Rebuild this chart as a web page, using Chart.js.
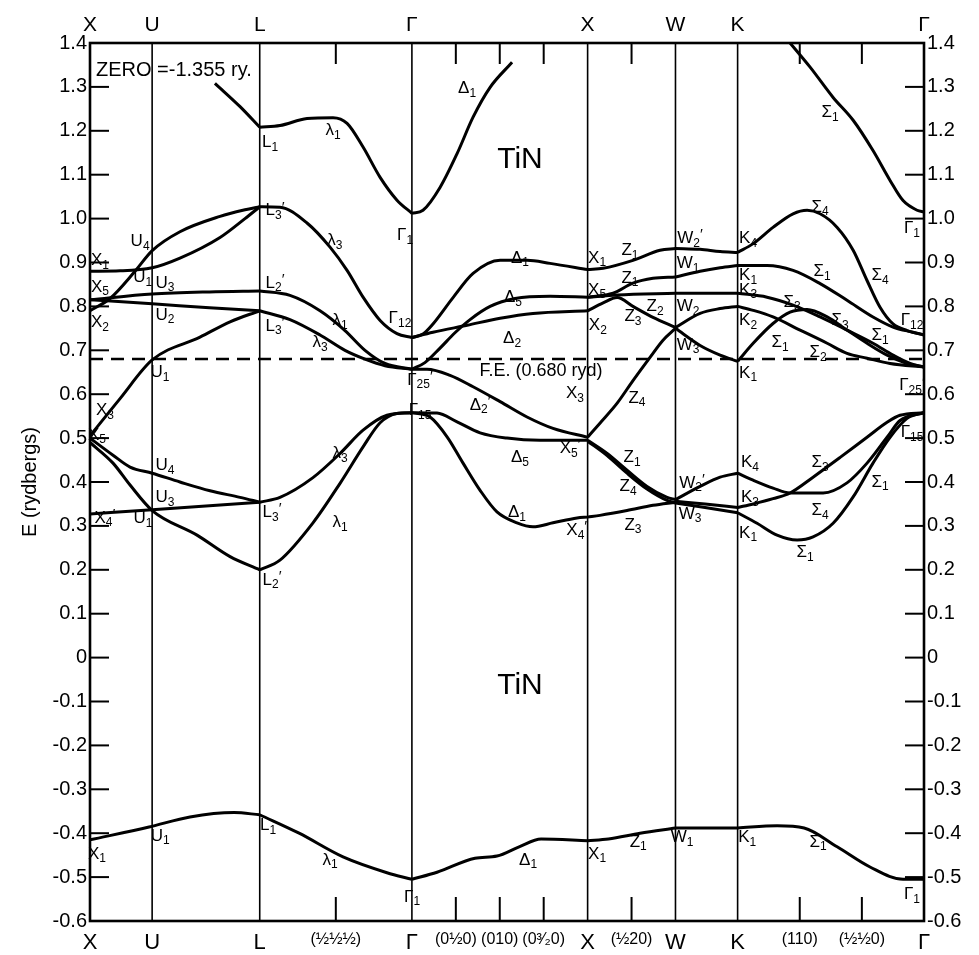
<!DOCTYPE html>
<html>
<head>
<meta charset="utf-8">
<script src="https://cdn.jsdelivr.net/npm/chart.js@4/dist/chart.umd.min.js"></script>
<style>
  html, body { margin: 0; padding: 0; background: #fff; }
  canvas { display: block; }
</style>
</head>
<body>
<canvas id="c" width="979" height="955"></canvas>
<script>
// ---- k-path (distance along the path, units of 2π/a) ----
const kPointPos = [0, 0.3536, 0.9659, 1.8319, 2.8319, 3.3319, 3.6855, 4.7462];
const kPointNames = ['X', 'U', 'L', 'Γ', 'X', 'W', 'K', 'Γ'];
const minorTickPos = [1.3989, 2.0819, 2.3319, 2.5819, 3.0819, 4.0391, 4.3926];
const bottomTickPos = [0, 0.3536, 0.9659, 1.3989, 1.8319, 2.0819, 2.3319, 2.5819, 2.8319, 3.0819, 3.3319, 3.6855, 4.0391, 4.3926, 4.7462];
const bottomTickNames = ['X', 'U', 'L', '(½½½)', 'Γ', '(0½0)', '(010)', '(0³⁄₂0)', 'X', '(½20)', 'W', 'K', '(110)', '(½½0)', 'Γ'];
const energyTicks = [1.4, 1.3, 1.2, 1.1, 1.0, 0.9, 0.8, 0.7, 0.6, 0.5, 0.4, 0.3, 0.2, 0.1, 0, -0.1, -0.2, -0.3, -0.4, -0.5, -0.6];
const fermiEnergy = 0.680;

// ---- bands, segment X-U-L ----
const xlA = [[0,0.79],[0.114,0.818],[0.256,0.88],[0.354,0.927],[0.512,0.97],[0.74,1.005],[0.882,1.02],[0.966,1.027]];
const xlB = [[0,0.88],[0.171,0.881],[0.354,0.888],[0.512,0.91],[0.74,0.957],[0.882,1.0],[0.966,1.027]];
const xlC = [[0,0.815],[0.354,0.828],[0.68,0.833],[0.966,0.835]];
const xlD = [[0,0.815],[0.354,0.806],[0.68,0.797],[0.966,0.79]];
const xlE = [[0,0.505],[0.171,0.59],[0.354,0.678],[0.626,0.73],[0.797,0.765],[0.966,0.79]];
const xlF = [[0,0.5],[0.131,0.461],[0.228,0.434],[0.354,0.42],[0.512,0.40],[0.683,0.38],[0.854,0.365],[0.966,0.354]];
const xlG = [[0,0.49],[0.131,0.443],[0.228,0.393],[0.354,0.335],[0.609,0.279],[0.797,0.23],[0.966,0.2]];
const xlH = [[0,0.327],[0.354,0.337],[0.966,0.354]];
const xlTop = [[0.711,1.308],[0.854,1.255],[0.966,1.208]];
const xlBottom = [[0,-0.415],[0.336,-0.386],[0.569,-0.363],[0.82,-0.353],[0.966,-0.358]];
// ---- segment L-Γ ----
const lgTop = [[0.966,1.208],[1.081,1.212],[1.235,1.228],[1.383,1.23],[1.463,1.217],[1.554,1.163],[1.651,1.094],[1.747,1.042],[1.832,1.012]];
const lgA = [[0.966,1.027],[1.081,1.026],[1.235,0.99],[1.366,0.935],[1.463,0.882],[1.554,0.821],[1.651,0.768],[1.747,0.738],[1.832,0.729]];
const lgB = [[0.966,0.835],[1.138,0.825],[1.309,0.79],[1.451,0.745],[1.565,0.70],[1.679,0.67],[1.832,0.657]];
const lgC = [[0.966,0.79],[1.138,0.77],[1.309,0.735],[1.451,0.70],[1.565,0.68],[1.679,0.665],[1.832,0.657]];
const lgD = [[0.966,0.354],[1.081,0.365],[1.269,0.41],[1.423,0.465],[1.554,0.518],[1.69,0.552],[1.832,0.558]];
const lgE = [[0.966,0.2],[1.081,0.222],[1.269,0.307],[1.423,0.397],[1.554,0.48],[1.651,0.535],[1.747,0.556],[1.832,0.558]];
const lgBottom = [[0.966,-0.358],[1.19,-0.40],[1.44,-0.454],[1.69,-0.49],[1.832,-0.505]];
// ---- segment Γ-X ----
const gxTop = [[1.832,1.012],[1.895,1.019],[1.992,1.071],[2.089,1.148],[2.18,1.231],[2.277,1.299],[2.402,1.356]];
const gxA = [[1.832,0.729],[1.895,0.737],[1.952,0.76],[2.066,0.82],[2.18,0.875],[2.334,0.905],[2.487,0.905],[2.618,0.898],[2.832,0.884]];
const gxB = [[1.832,0.729],[1.952,0.741],[2.146,0.757],[2.334,0.773],[2.521,0.784],[2.832,0.79]];
const gxC = [[1.832,0.657],[1.906,0.672],[1.992,0.705],[2.077,0.74],[2.163,0.77],[2.277,0.80],[2.419,0.818],[2.618,0.823],[2.832,0.821]];
const gxD = [[1.832,0.657],[1.918,0.657],[2.049,0.643],[2.18,0.617],[2.334,0.583],[2.487,0.548],[2.635,0.522],[2.832,0.502]];
const gxE = [[1.832,0.558],[1.975,0.557],[2.089,0.537],[2.22,0.512],[2.373,0.50],[2.561,0.495],[2.832,0.495]];
const gxF = [[1.832,0.558],[1.935,0.548],[2.032,0.503],[2.123,0.443],[2.22,0.381],[2.316,0.332],[2.43,0.307],[2.521,0.298],[2.635,0.307],[2.772,0.318],[2.832,0.32]];
const gxBottom = [[1.832,-0.505],[1.975,-0.489],[2.191,-0.457],[2.316,-0.452],[2.442,-0.431],[2.567,-0.413],[2.832,-0.417]];
// ---- segment X-W ----
const xwA = [[2.832,0.884],[2.92,0.887],[3.09,0.905],[3.244,0.928],[3.332,0.932]];
const xwB = [[2.832,0.821],[2.977,0.83],[3.09,0.853],[3.204,0.864],[3.332,0.867]];
const xwC = [[2.832,0.821],[3.0,0.826],[3.332,0.83]];
const xwD = [[2.832,0.79],[2.92,0.808],[3.0,0.82],[3.09,0.80],[3.204,0.775],[3.332,0.752]];
const xwE = [[2.832,0.502],[2.902,0.534],[2.999,0.579],[3.09,0.631],[3.187,0.684],[3.261,0.723],[3.332,0.75]];
const xwF = [[2.832,0.495],[2.943,0.465],[3.056,0.427],[3.17,0.39],[3.284,0.365],[3.332,0.36]];
const xwG = [[2.832,0.493],[2.943,0.46],[3.056,0.42],[3.17,0.384],[3.284,0.358],[3.332,0.352]];
const xwH = [[2.832,0.32],[2.902,0.324],[3.056,0.335],[3.204,0.347],[3.332,0.354]];
const xwBottom = [[2.832,-0.417],[2.95,-0.413],[3.13,-0.40],[3.332,-0.388]];
// ---- segment W-K ----
const wkA = [[3.332,0.932],[3.472,0.93],[3.586,0.925],[3.686,0.923]];
const wkB = [[3.332,0.867],[3.472,0.88],[3.586,0.888],[3.686,0.893]];
const wkC = [[3.332,0.83],[3.686,0.83]];
const wkD = [[3.332,0.752],[3.472,0.784],[3.586,0.795],[3.686,0.80]];
const wkE = [[3.332,0.75],[3.472,0.711],[3.586,0.689],[3.686,0.675]];
const wkF = [[3.332,0.36],[3.472,0.39],[3.586,0.411],[3.686,0.42]];
const wkG = [[3.332,0.356],[3.5,0.35],[3.686,0.342]];
const wkH = [[3.332,0.352],[3.5,0.342],[3.686,0.33]];
const wkBottom = [[3.332,-0.388],[3.686,-0.388]];
// ---- segment K-Γ ----
const kgTop = [[3.984,1.40],[4.098,1.345],[4.229,1.276],[4.343,1.224],[4.456,1.155],[4.553,1.087],[4.627,1.041],[4.707,1.019],[4.746,1.015]];
const kgA = [[3.686,0.923],[3.774,0.943],[3.887,0.98],[4.001,1.011],[4.081,1.019],[4.155,1.011],[4.252,0.98],[4.343,0.928],[4.422,0.859],[4.496,0.798],[4.57,0.76],[4.65,0.745],[4.746,0.735]];
const kgB = [[3.686,0.893],[3.853,0.893],[4.001,0.882],[4.155,0.852],[4.308,0.814],[4.456,0.776],[4.57,0.753],[4.684,0.741],[4.746,0.735]];
const kgC = [[3.686,0.83],[3.853,0.821],[4.001,0.803],[4.155,0.776],[4.308,0.746],[4.456,0.716],[4.57,0.689],[4.667,0.67],[4.746,0.662]];
const kgD = [[3.686,0.80],[3.774,0.791],[3.887,0.776],[4.041,0.746],[4.195,0.716],[4.308,0.693],[4.422,0.682],[4.553,0.67],[4.746,0.662]];
const kgE = [[3.686,0.675],[3.774,0.716],[3.887,0.761],[3.984,0.787],[4.081,0.793],[4.195,0.776],[4.308,0.746],[4.422,0.716],[4.536,0.689],[4.65,0.67],[4.746,0.662]];
const kgF = [[3.686,0.42],[3.774,0.404],[3.887,0.386],[3.984,0.375],[4.172,0.375],[4.308,0.398],[4.422,0.443],[4.536,0.502],[4.61,0.54],[4.746,0.558]];
const kgG = [[3.686,0.342],[3.774,0.35],[3.887,0.362],[3.984,0.375],[4.115,0.411],[4.269,0.456],[4.422,0.502],[4.536,0.536],[4.61,0.552],[4.746,0.558]];
const kgH = [[3.686,0.33],[3.796,0.306],[3.91,0.279],[4.024,0.268],[4.115,0.275],[4.229,0.306],[4.343,0.366],[4.456,0.443],[4.553,0.502],[4.65,0.545],[4.746,0.558]];
const kgBottom = [[3.686,-0.388],[3.91,-0.383],[4.064,-0.388],[4.252,-0.431],[4.439,-0.477],[4.627,-0.505],[4.746,-0.505]];

// ---- symmetry labels (text, k, E) ----
const bandLabels = [
 ['X_1',0.057,0.905],['U_4',0.285,0.948],['U_1',0.30,0.866],['U_3',0.427,0.853],['X_5',0.057,0.844],['X_2',0.057,0.764],['U_2',0.427,0.78],
 ['L_1',1.025,1.174],['λ_1',1.383,1.2],["L_3'",1.053,1.018],['λ_3',1.394,0.95],["L_2'",1.053,0.853],["L_3'",1.053,0.755],['λ_1',1.423,0.768],['λ_3',1.309,0.718],['Γ_1',1.793,0.962],['Γ_12',1.764,0.773],
 ['U_1',0.398,0.65],['X_3',0.085,0.563],['X_5',0.04,0.507],['U_4',0.427,0.438],['U_3',0.427,0.365],['U_1',0.302,0.317],["X_4'",0.085,0.318],["L_3'",1.036,0.331],["L_2'",1.036,0.177],['λ_3',1.423,0.465],['λ_1',1.423,0.308],
 ["Γ_25'",1.878,0.632],['Γ_15',1.878,0.563],['Δ_1',2.146,1.297],['Δ_1',2.447,0.91],['Δ_5',2.407,0.82],['Δ_2',2.402,0.727],["Δ_2'",2.22,0.575],['Δ_5',2.447,0.456],['Δ_1',2.43,0.331],
 ['X_3',2.76,0.602],["X_5'",2.732,0.477],["X_4'",2.77,0.29],['X_1',2.886,0.91],['Z_1',3.073,0.928],['X_5',2.886,0.837],['Z_1',3.073,0.865],['Z_2',3.216,0.8],['X_2',2.89,0.757],['Z_3',3.09,0.777],
 ["W_2'",3.415,0.955],['W_1',3.404,0.898],['W_2',3.404,0.8],['W_3',3.404,0.712],['Z_4',3.113,0.591],['Z_1',3.085,0.456],['Z_4',3.062,0.39],['Z_3',3.09,0.302],["W_2'",3.426,0.398],['W_3',3.415,0.327],
 ['K_4',3.745,0.955],['K_1',3.745,0.871],['K_3',3.745,0.837],['K_2',3.745,0.768],['K_1',3.745,0.648],['K_4',3.756,0.445],['K_3',3.756,0.365],['K_1',3.745,0.284],
 ['Σ_1',4.212,1.242],['Σ_4',4.155,1.026],['Σ_1',4.166,0.88],['Σ_4',4.496,0.871],['Σ_3',3.996,0.81],['Σ_1',3.927,0.718],['Σ_2',4.143,0.695],['Σ_3',4.269,0.768],['Σ_1',4.496,0.734],['Γ_12',4.678,0.768],["Γ_25'",4.678,0.62],['Γ_1',4.678,0.978],['Γ_15',4.678,0.513],['Σ_3',4.155,0.445],['Σ_1',4.496,0.4],['Σ_4',4.155,0.335],['Σ_1',4.07,0.24],
 ['X_1',0.04,-0.447],['U_1',0.40,-0.406],['L_1',1.013,-0.383],['λ_1',1.366,-0.461],['Γ_1',1.833,-0.545],['Δ_1',2.493,-0.461],['X_1',2.886,-0.447],['Z_1',3.12,-0.42],['W_1',3.37,-0.41],['K_1',3.74,-0.41],['Σ_1',4.143,-0.42],['Γ_1',4.678,-0.54]
];
const noteTexts = [
 ['ZERO =-1.355 ry.', 0.034, 1.338, 20, 'left'],
 ['TiN', 2.447, 1.133, 30, 'center'],
 ['TiN', 2.447, -0.063, 30, 'center'],
 ['F.E. (0.680 ryd)', 2.567, 0.652, 18, 'center']
];

const bandArrays = [xlA,xlB,xlC,xlD,xlE,xlF,xlG,xlH,xlTop,xlBottom,
  lgTop,lgA,lgB,lgC,lgD,lgE,lgBottom,
  gxTop,gxA,gxB,gxC,gxD,gxE,gxF,gxBottom,
  xwA,xwB,xwC,xwD,xwE,xwF,xwG,xwH,xwBottom,
  wkA,wkB,wkC,wkD,wkE,wkF,wkG,wkH,wkBottom,
  kgTop,kgA,kgB,kgC,kgD,kgE,kgF,kgG,kgH,kgBottom];

const FONT = '"Liberation Sans", Arial, sans-serif';

const datasets = bandArrays.map(arr => ({
  data: arr.map(([x, y]) => ({x, y})),
  borderColor: '#000', borderWidth: 3, pointRadius: 0,
  cubicInterpolationMode: 'monotone', fill: false
}));
datasets.push({
  data: [{x: kPointPos[0], y: fermiEnergy}, {x: kPointPos[kPointPos.length - 1], y: fermiEnergy}],
  borderColor: '#000', borderWidth: 2.5, borderDash: [13, 8], pointRadius: 0, fill: false
});

function drawSymLabel(ctx, spec, x, y) {
  const parts = spec.split('_');
  const base = parts[0];
  let sub = parts[1] || '';
  let prime = '';
  if (sub.endsWith("'")) { prime = '′'; sub = sub.slice(0, -1); }
  const fb = '17px ' + FONT, fs = '12px ' + FONT, fp = '15px ' + FONT;
  ctx.font = fb; const wb = ctx.measureText(base).width;
  ctx.font = fs; const ws = ctx.measureText(sub).width;
  ctx.font = fp; const wp = prime ? ctx.measureText(prime).width : 0;
  let x0 = x - (wb + ws + wp) / 2;
  ctx.textAlign = 'left'; ctx.textBaseline = 'middle';
  ctx.font = fb; ctx.fillText(base, x0, y);
  ctx.font = fs; ctx.fillText(sub, x0 + wb, y + 5);
  if (prime) { ctx.font = fp; ctx.fillText(prime, x0 + wb + ws, y - 3); }
}

const framePlugin = {
  id: 'frame',
  beforeDatasetsDraw(chart) {
    const {ctx, chartArea: a, scales} = chart;
    const xs = scales.x, ys = scales.y;
    ctx.save();
    ctx.strokeStyle = '#000';
    ctx.lineWidth = 1.6;
    kPointPos.slice(1, -1).forEach(k => {
      const px = xs.getPixelForValue(k);
      ctx.beginPath(); ctx.moveTo(px, a.top); ctx.lineTo(px, a.bottom); ctx.stroke();
    });
    ctx.lineWidth = 2;
    minorTickPos.forEach(k => {
      const px = xs.getPixelForValue(k);
      ctx.beginPath(); ctx.moveTo(px, a.top); ctx.lineTo(px, a.top + 21); ctx.stroke();
      ctx.beginPath(); ctx.moveTo(px, a.bottom); ctx.lineTo(px, a.bottom - 24); ctx.stroke();
    });
    energyTicks.forEach(e => {
      const py = ys.getPixelForValue(e);
      ctx.beginPath(); ctx.moveTo(a.left, py); ctx.lineTo(a.left + 19, py); ctx.stroke();
      ctx.beginPath(); ctx.moveTo(a.right, py); ctx.lineTo(a.right - 19, py); ctx.stroke();
    });
    ctx.lineWidth = 2.6;
    ctx.strokeRect(a.left, a.top, a.right - a.left, a.bottom - a.top);
    ctx.restore();
  },
  afterDatasetsDraw(chart) {
    const {ctx, scales} = chart;
    const xs = scales.x, ys = scales.y;
    ctx.save();
    ctx.fillStyle = '#000';
    bandLabels.forEach(([t, k, e]) => drawSymLabel(ctx, t, xs.getPixelForValue(k), ys.getPixelForValue(e)));
    noteTexts.forEach(([t, k, e, size, align]) => {
      ctx.font = size + 'px ' + FONT;
      ctx.textAlign = align; ctx.textBaseline = 'middle';
      ctx.fillText(t, xs.getPixelForValue(k), ys.getPixelForValue(e));
    });
    ctx.restore();
  }
};

const fmtE = v => (Math.abs(v) < 1e-9 ? '0' : v.toFixed(1));

new Chart(document.getElementById('c'), {
  type: 'line',
  data: { datasets },
  plugins: [framePlugin],
  options: {
    responsive: false,
    animation: false,
    devicePixelRatio: 1,
    layout: { padding: 0 },
    plugins: { legend: { display: false }, tooltip: { enabled: false } },
    scales: {
      x: {
        type: 'linear', position: 'bottom',
        min: kPointPos[0], max: kPointPos[kPointPos.length - 1],
        afterBuildTicks: s => { s.ticks = bottomTickPos.map(v => ({value: v})); },
        afterFit: s => { s.height = 34; },
        grid: { display: false, drawTicks: false }, border: { display: false },
        ticks: {
          autoSkip: false, maxRotation: 0, padding: 9, color: '#000',
          callback: (v, i) => bottomTickNames[i],
          font: c => (bottomTickNames[c.index] || '').startsWith('(') ? {family: FONT, size: 16} : {family: FONT, size: 22}
        }
      },
      x2: {
        type: 'linear', position: 'top', axis: 'x',
        min: kPointPos[0], max: kPointPos[kPointPos.length - 1],
        afterBuildTicks: s => { s.ticks = kPointPos.map(v => ({value: v})); },
        afterFit: s => { s.height = 43; },
        grid: { display: false, drawTicks: false }, border: { display: false },
        ticks: { autoSkip: false, maxRotation: 0, padding: 5, color: '#000',
          callback: (v, i) => kPointNames[i], font: {family: FONT, size: 21} }
      },
      y: {
        type: 'linear', position: 'left', min: -0.6, max: 1.4,
        afterBuildTicks: s => { s.ticks = energyTicks.map(v => ({value: v})); },
        afterFit: s => { s.width = 90; },
        grid: { display: false, drawTicks: false }, border: { display: false },
        title: { display: true, text: 'E (rydbergs)', color: '#000', font: {family: FONT, size: 20}, padding: {top: 18, bottom: 0} },
        ticks: { autoSkip: false, padding: 3, color: '#000', callback: v => fmtE(v), font: {family: FONT, size: 20} }
      },
      y2: {
        type: 'linear', position: 'right', axis: 'y', min: -0.6, max: 1.4,
        afterBuildTicks: s => { s.ticks = energyTicks.map(v => ({value: v})); },
        afterFit: s => { s.width = 55; },
        grid: { display: false, drawTicks: false }, border: { display: false },
        ticks: { autoSkip: false, padding: 3, color: '#000', callback: v => fmtE(v), font: {family: FONT, size: 20} }
      }
    }
  }
});
</script>
</body>
</html>
